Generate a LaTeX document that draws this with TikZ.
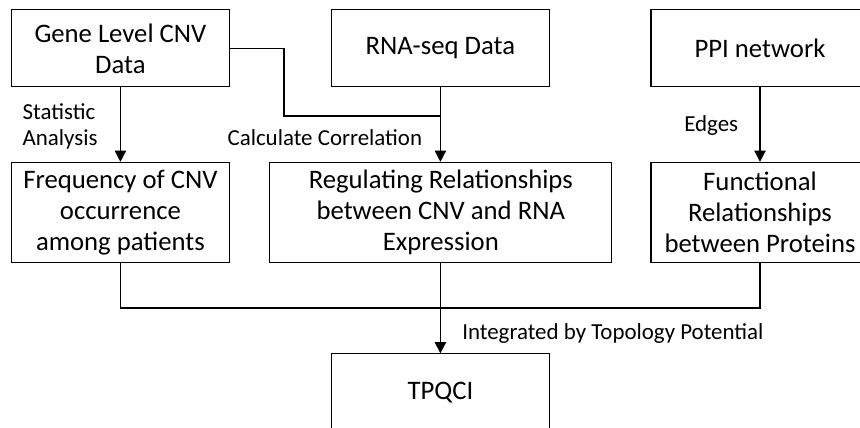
\documentclass[tikz,border=0pt]{standalone}
\usepackage{fontspec}
\setmainfont{Carlito}
\usetikzlibrary{arrows.meta, positioning}

\tikzset{
	databox/.style={draw, line width=0.8pt, align=center, inner sep=0pt,
		minimum width=5.45cm, minimum height=1.925cm,
		font=\fontsize{19}{22}\selectfont},
	stepbox/.style={databox, minimum height=2.5cm},
	flowlabel/.style={inner sep=0pt, align=left, font=\fontsize{16.3}{18.5}\selectfont},
	flow/.style={line width=1.2pt, -{Triangle[width=8pt,length=8pt]}},
	joint/.style={line width=1.2pt}
}

\begin{document}
\begin{tikzpicture}

	\useasboundingbox (0,0) rectangle (21.5,-10.675);

%input data
	\node [databox] (gene) at (3.01,-1.21){Gene Level CNV\\Data};
	\node [databox] (rna) at (11.01,-1.21){RNA-seq Data};
	\node [databox] (ppi) at (19.0,-1.21){PPI network};

%derived relationships
	\node [stepbox] (freq) at (3.01,-5.31){Frequency of CNV\\occurrence\\among patients};
	\node [stepbox, minimum width=8.55cm] (reg) at (11.02,-5.31){Regulating Relationships\\between CNV and RNA\\Expression};
	\node [stepbox] (func) at (19.0,-5.31){Functional\\Relationships\\between Proteins};

%result
	\node [databox] (tpqci) at (11.01,-9.81){TPQCI};

%arrows
	\coordinate [] (bend) at (7.1,-2.9){};
	\coordinate [] (meet) at (11.01,-2.9){};
	\coordinate [] (merge) at (11.01,-7.7){};
	\draw [flow] (gene) -- (freq);
	\draw [flow] (rna) -- (reg.north -| rna);
	\draw [joint] (gene.east) -| (bend) -- (meet);
	\draw [flow] (ppi) -- (func);
	\draw [joint] (freq.south) |- (merge) -| (func.south);
	\draw [flow] (reg.south -| tpqci) -- (tpqci);

%labels
	\node [flowlabel, anchor=west] (stat) at (0.56,-3.15){Statistic\\Analysis};
	\node [flowlabel, anchor=east] (corr) at (10.56,-3.45){Calculate Correlation};
	\node [flowlabel, anchor=east] (edges) at (18.46,-3.13){Edges};
	\node [flowlabel, anchor=west] (topo) at (11.55,-8.33){Integrated by Topology Potential};

\end{tikzpicture}
\end{document}
